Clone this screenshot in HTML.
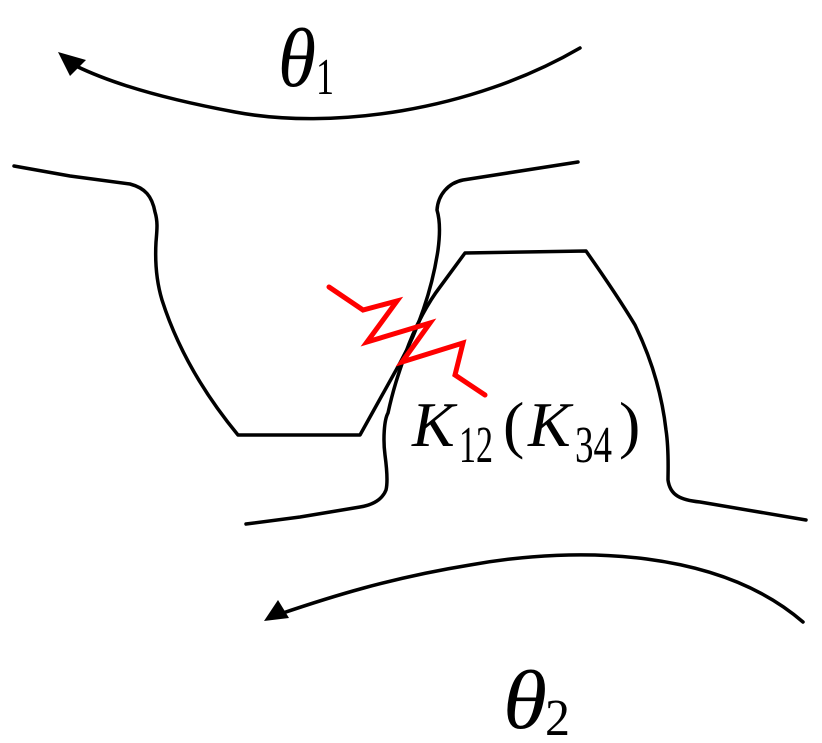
<!DOCTYPE html>
<html><head><meta charset="utf-8"><style>
html,body{margin:0;padding:0;background:#fff;}
svg{display:block}
text{font-family:"Liberation Serif",serif;}
</style></head><body>
<svg width="822" height="743" viewBox="0 0 822 743" xmlns="http://www.w3.org/2000/svg">
<g fill="none" stroke="#000" stroke-width="3.5" stroke-linejoin="round" stroke-linecap="round">
<path d="M14,166 L70,176 L130,184 C145,188 152,196 155,212 C158,222 157,230 156,242 C155,260 156,280 162,300 C178,350 205,395 238,435 L360,435 L400,363 C418,330 432,290 438,250 C440,235 440,220 437,210 C438,195 448,183 463,180 L578,162"/>
<path d="M246,524 L300,517 L360,507 C372,505 382,500 386,490 C388,482 387,470 385,455 C383,440 384,420 388,413 C393,390 398,375 405,355 C415,325 430,300 440,287 L465,253 L586,251 C605,278 620,300 635,325 C652,360 662,395 666,430 C669,450 668,470 668,480 C670,495 680,500 700,502 L806,520"/>
<path d="M580,48 C470,112 330,130 235,112 C170,100 115,85 76,66"/>
<path d="M803,622 C720,550 580,545 470,565 C390,578 330,597 280,614"/>
</g>
<polygon points="58,52 86,60 70,76" fill="#000"/>
<polygon points="264,621 278,600 289,618" fill="#000"/>
<polyline points="329,287 363,310 397,301 367,342 430,323 402,362 463,343 455,375 485,395" fill="none" stroke="#f00" stroke-width="5" stroke-linejoin="miter" stroke-linecap="round"/>
<text x="278" y="86" font-size="84" font-style="italic" textLength="38" lengthAdjust="spacingAndGlyphs">θ</text>
<text x="316" y="94" font-size="52" textLength="18" lengthAdjust="spacingAndGlyphs">1</text>
<text x="503" y="728" font-size="84" font-style="italic" textLength="44" lengthAdjust="spacingAndGlyphs">θ</text>
<text x="545" y="735" font-size="52" textLength="25" lengthAdjust="spacingAndGlyphs">2</text>
<text x="412" y="446" font-size="64" font-style="italic">K</text>
<text x="459" y="462" font-size="52" textLength="34" lengthAdjust="spacingAndGlyphs">12</text>
<text x="503" y="446" font-size="64">(</text>
<text x="528" y="446" font-size="64" font-style="italic">K</text>
<text x="575" y="462" font-size="52" textLength="37" lengthAdjust="spacingAndGlyphs">34</text>
<text x="619" y="446" font-size="64">)</text>
</svg>
</body></html>
